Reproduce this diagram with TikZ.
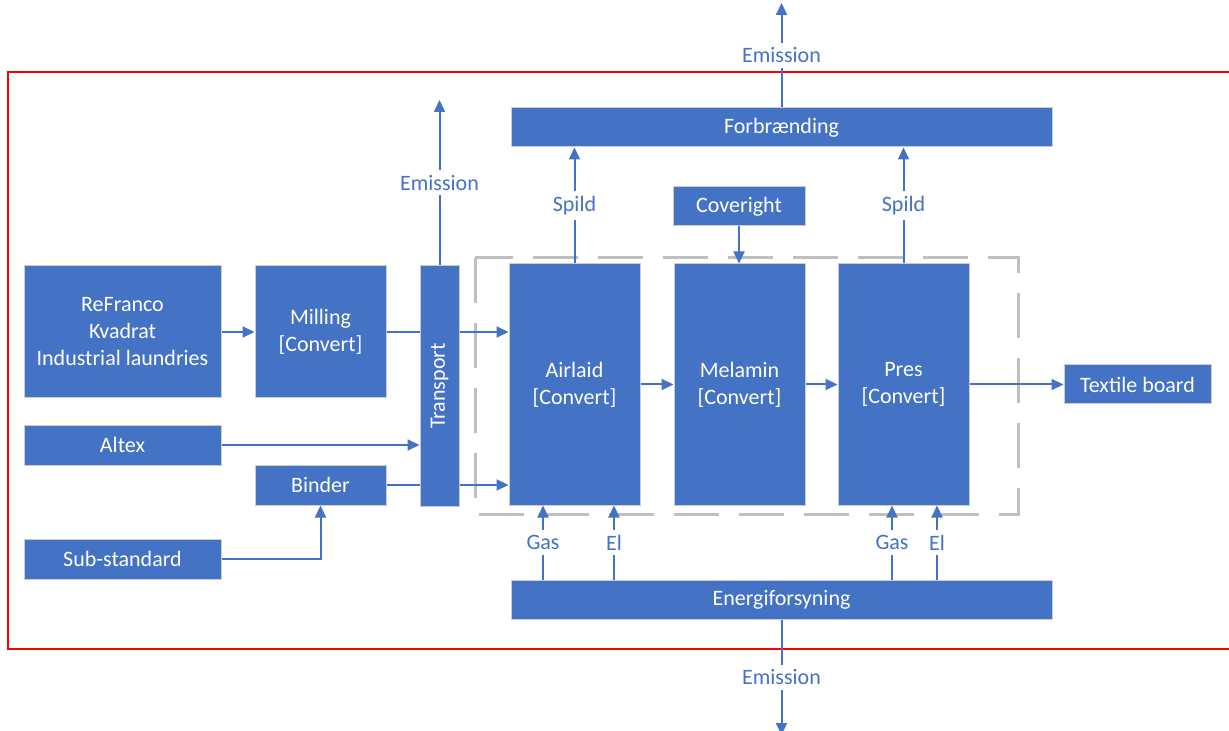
\documentclass[tikz,border=0pt]{standalone}
\usepackage{fontspec}
\setmainfont{Carlito}
\usetikzlibrary{arrows.meta}
\definecolor{boxBlue}{RGB}{68,114,196}
\definecolor{boxEdge}{RGB}{200,205,214}
\definecolor{frameGray}{RGB}{191,191,191}
\tikzstyle{diagram} = [x = .5pt, y = -.5pt]
\tikzstyle{boxText} = [font=\fontsize{11}{13.5}\selectfont]
\tikzstyle{boxStyle} = [boxText, draw=boxEdge, line width=.5pt, fill=boxBlue, text=white, align=center, inner sep=0pt]
\tikzstyle{flowLine} = [draw=boxBlue, line width=1pt]
\tikzstyle{flowArrow} = [flowLine, -{Triangle[length=6pt, width=5.5pt]}]
\tikzstyle{flowLabel} = [boxText, fill=white, text=boxBlue, inner sep=2.5pt]
\tikzstyle{boundaryLine} = [color=red, line width=1pt]
\tikzstyle{processFrame} = [color=frameGray, line width=1.5pt, dash pattern=on 22.5pt off 10pt]
\newcommand{\processBox}[6]{\node [boxStyle, minimum width = #4 * .5pt, minimum height = #5 * .5pt] (#1) at (#2, #3) {#6};}

\begin{document}
\begin{tikzpicture}[diagram]
  \useasboundingbox (0,0) rectangle (1229,731);
  % system boundary and process frame
  \draw [boundaryLine] (1229,72) -| (8,649) -- (1229,649);
  \draw [processFrame] (475,258) rectangle (1018,514);

  % input side
  \processBox{reFranco}{122.5}{332}{197}{132}{ReFranco\\Kvadrat\\Industrial laundries}
  \processBox{milling}{320.5}{332}{131}{132}{Milling\\{[Convert]}}
  \processBox{altex}{122.5}{445}{197}{40}{Altex}
  \processBox{binder}{320.5}{485}{131}{40}{Binder}
  \processBox{subStandard}{122.5}{559}{197}{40}{Sub-standard}
  \processBox{transport}{439.5}{386}{39}{240}{}
  \node [boxText, text=white, rotate=90] (transportText) at (transport) {Transport};

  % process steps
  \processBox{airlaid}{574.5}{384.5}{131}{241}{Airlaid\\{[Convert]}}
  \processBox{melamin}{739.5}{384.5}{131}{241}{Melamin\\{[Convert]}}
  \processBox{pres}{903.5}{384.5}{131}{241}{Pres\\{[Convert]}}
  \processBox{coveright}{739}{206.5}{132}{39}{Coveright}
  \processBox{textileBoard}{1137.5}{384.5}{147}{39}{Textile board}
  \processBox{forbraending}{781.5}{127.5}{541}{39}{Forbrænding}
  \processBox{energi}{781.5}{599.5}{541}{39}{Energiforsyning}

  % free ends
  \coordinate (transportOut) at (439.5,100);
  \coordinate (burnOut) at (781.5,3);
  \coordinate (energiOut) at (781.5,735);

  % flows
  \draw [flowArrow] (reFranco.east) -- (milling.west);
  \draw [flowLine] (milling.east) -- (milling.east -| transport.west);
  \draw [flowArrow] (transport.east |- milling.east) -- (airlaid.west |- milling.east);
  \draw [flowArrow] (altex.east) -- (altex.east -| transport.west);
  \draw [flowLine] (binder.east) -- (binder.east -| transport.west);
  \draw [flowArrow] (transport.east |- binder.east) -- (airlaid.west |- binder.east);
  \draw [flowArrow] (subStandard.east) -| (binder.south);
  \draw [flowArrow] (airlaid.east) -- (melamin.west);
  \draw [flowArrow] (melamin.east) -- (pres.west);
  \draw [flowArrow] (pres.east) -- (textileBoard.west);
  \draw [flowArrow] (coveright.south) -- (coveright.south |- melamin.north);

  % waste and emissions
  \draw [flowArrow] (transport.north) -- node [flowLabel] {Emission} (transportOut);
  \draw [flowArrow] (forbraending.north) -- node [flowLabel] {Emission} (burnOut);
  \draw [flowArrow] (energi.south) -- node [flowLabel] {Emission} (energiOut);
  \draw [flowArrow] (airlaid.north) -- node [flowLabel] {Spild} (airlaid.north |- forbraending.south);
  \draw [flowArrow] (pres.north) -- node [flowLabel] {Spild} (pres.north |- forbraending.south);

  % energy supply
  \foreach \xPos/\supply in {543/Gas, 614/El} {
    \draw [flowArrow] (energi.north -| \xPos,0) -- node [flowLabel] {\supply} (airlaid.south -| \xPos,0);
  }
  \foreach \xPos/\supply in {892/Gas, 937/El} {
    \draw [flowArrow] (energi.north -| \xPos,0) -- node [flowLabel] {\supply} (pres.south -| \xPos,0);
  }
\end{tikzpicture}
\end{document}
